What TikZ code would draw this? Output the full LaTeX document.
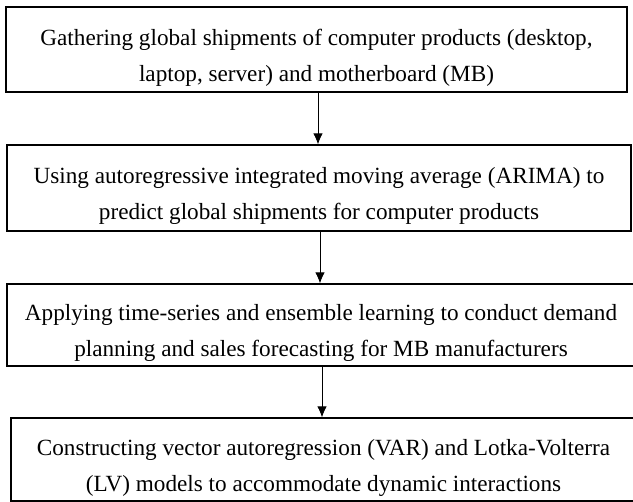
\documentclass[tikz,border=0pt]{standalone}
\usepackage{fontspec}
\setmainfont{Liberation Serif}
\usetikzlibrary{arrows.meta}
\tikzset{stagebox/.style={draw, line width=1.2pt, rectangle, align=center, inner sep=0pt, font=\fontsize{23.2}{36}\selectfont,
                          text height=69pt, text depth=5pt},
         flow/.style={line width=0.9pt, -{Latex[length=11pt,width=9.5pt]}}}

\begin{document}
\begin{tikzpicture}[x=1pt,y=-1pt]
  \useasboundingbox (0,0) rectangle (633,502);
  \node[stagebox, minimum width=621pt, minimum height=85pt] (gather) at (316.5,49.5)
    {Gathering global shipments of computer products (desktop,\\laptop, server) and motherboard (MB)};
  \node[stagebox, minimum width=624pt, minimum height=86pt] (arima) at (319,188)
    {Using autoregressive integrated moving average (ARIMA) to\\predict global shipments for computer products};
  \node[stagebox, minimum width=628pt, minimum height=82pt] (ensemble) at (321,325)
    {Applying time-series and ensemble learning to conduct demand\\planning and sales forecasting for MB manufacturers};
  \node[stagebox, minimum width=625pt, minimum height=83pt] (varlv) at (323.5,459.5)
    {Constructing vector autoregression (VAR) and Lotka-Volterra\\(LV) models to accommodate dynamic interactions};
  \draw[flow] ([xshift=1.5pt]gather.south) -- ([xshift=1.5pt]gather.south |- arima.north);
  \draw[flow] ([xshift=1pt]arima.south) -- ([xshift=1pt]arima.south |- ensemble.north);
  \draw[flow] ([xshift=1pt]ensemble.south) -- ([xshift=1pt]ensemble.south |- varlv.north);
\end{tikzpicture}
\end{document}
